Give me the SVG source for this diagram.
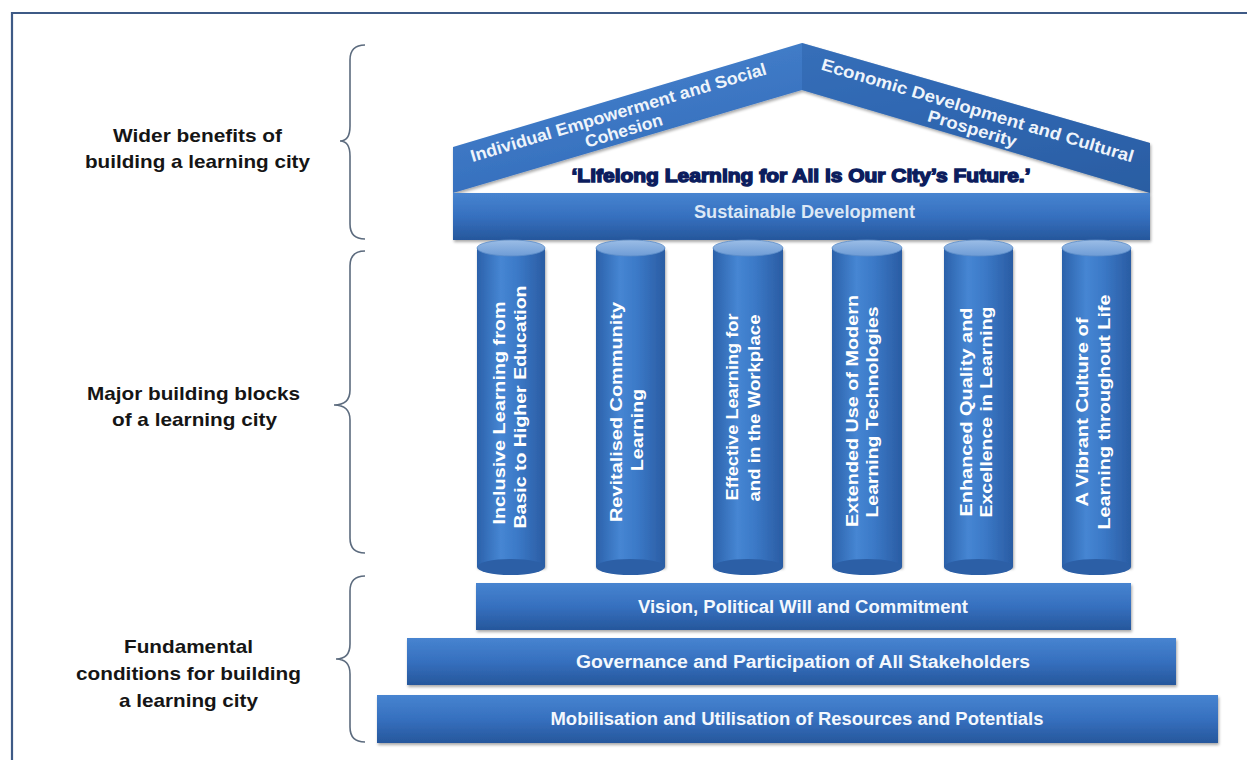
<svg xmlns="http://www.w3.org/2000/svg" width="1247" height="760" viewBox="0 0 1247 760">
<defs>
<linearGradient id="gBar" x1="0" y1="0" x2="0" y2="1">
<stop offset="0" stop-color="#4784d0"/>
<stop offset="0.5" stop-color="#3670bf"/>
<stop offset="1" stop-color="#26579c"/>
</linearGradient>
<linearGradient id="gRoof" x1="0" y1="0" x2="1" y2="1">
<stop offset="0" stop-color="#4a86d0"/>
<stop offset="0.55" stop-color="#356fbd"/>
<stop offset="1" stop-color="#2a5c9f"/>
</linearGradient>
<linearGradient id="gCol" x1="0" y1="0" x2="1" y2="0">
<stop offset="0" stop-color="#2b61aa"/>
<stop offset="0.35" stop-color="#4686d3"/>
<stop offset="0.6" stop-color="#3b79c7"/>
<stop offset="1" stop-color="#2a5ca3"/>
</linearGradient>
<linearGradient id="gTop" x1="0" y1="0" x2="0" y2="1">
<stop offset="0" stop-color="#9bbde6"/>
<stop offset="1" stop-color="#6e9cd6"/>
</linearGradient>
<filter id="sh" x="-5%" y="-20%" width="110%" height="150%">
<feGaussianBlur in="SourceAlpha" stdDeviation="1.5"/>
<feOffset dx="1" dy="2" result="b"/>
<feComponentTransfer><feFuncA type="linear" slope="0.35"/></feComponentTransfer>
<feMerge><feMergeNode/><feMergeNode in="SourceGraphic"/></feMerge>
</filter>
<style>
.lbl{font-family:"Liberation Sans",Arial,sans-serif;font-weight:bold;font-size:19px;fill:#151515;text-anchor:middle}
.bt{font-family:"Liberation Sans",Arial,sans-serif;font-weight:bold;font-size:18px;fill:#f4f8fd;text-anchor:middle}
.ct{font-family:"Liberation Sans",Arial,sans-serif;font-weight:bold;font-size:17px;fill:#ffffff;text-anchor:middle}
.rt{font-family:"Liberation Sans",Arial,sans-serif;font-weight:bold;font-size:17px;fill:#eef4fb;text-anchor:middle}
.motto{font-family:"Liberation Sans",Arial,sans-serif;font-weight:bold;font-size:19px;fill:#0c1d5e;stroke:#0c1d5e;stroke-width:1.4;text-anchor:middle}
.brace{fill:none;stroke:#5c6b7e;stroke-width:1.6}
.bar{fill:url(#gBar)}
.colbody{fill:url(#gCol)}
.coltop{fill:url(#gTop);stroke:#5b8bc8;stroke-width:0.8}
</style>
</defs>
<rect width="1247" height="760" fill="#ffffff"/>
<path d="M12,760 L12,13 L1247,13" fill="none" stroke="#3e5a86" stroke-width="2.2"/>

<g id="connectors">
<path class="brace" d="M365,45 Q350,45 350,60 L350,126 Q350,141 340,141 Q350,141 350,156 L350,224 Q350,239 365,239"/>
<path class="brace" d="M365,251 Q350,251 350,266 L350,390 Q350,405 334,405 Q350,405 350,420 L350,538 Q350,553 365,553"/>
<path class="brace" d="M365,576 Q350,576 350,591 L350,644 Q350,659 336,659 Q350,659 350,674 L350,727 Q350,742 365,742"/>
</g>

<g id="label-wider">
<text class="lbl" x="197.5" y="142" textLength="169" lengthAdjust="spacingAndGlyphs">Wider benefits of</text>
<text class="lbl" x="197.5" y="168" textLength="225" lengthAdjust="spacingAndGlyphs">building a learning city</text>
</g>
<g id="label-major">
<text class="lbl" x="193.5" y="400" textLength="213" lengthAdjust="spacingAndGlyphs">Major building blocks</text>
<text class="lbl" x="194.5" y="426" textLength="165" lengthAdjust="spacingAndGlyphs">of a learning city</text>
</g>
<g id="label-fundamental">
<text class="lbl" x="188.5" y="653" textLength="129" lengthAdjust="spacingAndGlyphs">Fundamental</text>
<text class="lbl" x="188.5" y="680" textLength="225" lengthAdjust="spacingAndGlyphs">conditions for building</text>
<text class="lbl" x="188.5" y="707" textLength="139" lengthAdjust="spacingAndGlyphs">a learning city</text>
</g>

<g id="roof">
<polygon points="453,147 802,43 1150,143 1150,193 802,90 453,193" fill="url(#gRoof)" filter="url(#sh)"/>
<polygon points="802,43 1150,143 1150,193 802,90" fill="#2b5fa6" opacity="0.45"/>
<text class="rt" transform="translate(620,118) rotate(-16.6)" textLength="308" lengthAdjust="spacingAndGlyphs">Individual Empowerment and Social</text>
<text class="rt" transform="translate(620,118) rotate(-16.6)" y="19" textLength="80" lengthAdjust="spacingAndGlyphs">Cohesion</text>
<text class="rt" transform="translate(976,116) rotate(16.6)" textLength="325" lengthAdjust="spacingAndGlyphs">Economic Development and Cultural</text>
<text class="rt" transform="translate(976,116) rotate(16.6)" y="19" textLength="92" lengthAdjust="spacingAndGlyphs">Prosperity</text>
</g>

<g id="motto">
<text class="motto" x="801" y="182" textLength="459" lengthAdjust="spacingAndGlyphs">‘Lifelong Learning for All is Our City’s Future.’</text>
</g>

<g id="sustainable">
<rect class="bar" x="453" y="193" width="697" height="47" filter="url(#sh)"/>
<text class="bt" x="804.5" y="218" textLength="221" lengthAdjust="spacingAndGlyphs" style="fill:#dce8f6">Sustainable Development</text>
</g>

<g id="col1">
<rect class="colbody" x="477" y="248" width="68" height="319" filter="url(#sh)"/>
<ellipse cx="511" cy="567" rx="34" ry="8" fill="#2c5fa6"/>
<ellipse class="coltop" cx="511" cy="248" rx="34" ry="8"/>
<text class="ct" transform="translate(505,413) rotate(-90)" textLength="223" lengthAdjust="spacingAndGlyphs">Inclusive Learning from</text>
<text class="ct" transform="translate(526,407) rotate(-90)" textLength="243" lengthAdjust="spacingAndGlyphs">Basic to Higher Education</text>
</g>
<g id="col2">
<rect class="colbody" x="596" y="248" width="69" height="319" filter="url(#sh)"/>
<ellipse cx="630.5" cy="567" rx="34.5" ry="8" fill="#2c5fa6"/>
<ellipse class="coltop" cx="630.5" cy="248" rx="34.5" ry="8"/>
<text class="ct" transform="translate(622,412) rotate(-90)" textLength="220" lengthAdjust="spacingAndGlyphs">Revitalised  Community</text>
<text class="ct" transform="translate(643,430) rotate(-90)" textLength="82" lengthAdjust="spacingAndGlyphs">Learning</text>
</g>
<g id="col3">
<rect class="colbody" x="713" y="248" width="70" height="319" filter="url(#sh)"/>
<ellipse cx="748" cy="567" rx="35" ry="8" fill="#2c5fa6"/>
<ellipse class="coltop" cx="748" cy="248" rx="35" ry="8"/>
<text class="ct" transform="translate(738,407) rotate(-90)" textLength="187" lengthAdjust="spacingAndGlyphs">Effective Learning for</text>
<text class="ct" transform="translate(760,408) rotate(-90)" textLength="187" lengthAdjust="spacingAndGlyphs">and in the Workplace</text>
</g>
<g id="col4">
<rect class="colbody" x="832" y="248" width="70" height="319" filter="url(#sh)"/>
<ellipse cx="867" cy="567" rx="35" ry="8" fill="#2c5fa6"/>
<ellipse class="coltop" cx="867" cy="248" rx="35" ry="8"/>
<text class="ct" transform="translate(858,411) rotate(-90)" textLength="232" lengthAdjust="spacingAndGlyphs">Extended Use of Modern</text>
<text class="ct" transform="translate(878,412) rotate(-90)" textLength="211" lengthAdjust="spacingAndGlyphs">Learning Technologies</text>
</g>
<g id="col5">
<rect class="colbody" x="944" y="248" width="69" height="319" filter="url(#sh)"/>
<ellipse cx="978.5" cy="567" rx="34.5" ry="8" fill="#2c5fa6"/>
<ellipse class="coltop" cx="978.5" cy="248" rx="34.5" ry="8"/>
<text class="ct" transform="translate(972,412) rotate(-90)" textLength="209" lengthAdjust="spacingAndGlyphs">Enhanced Quality and</text>
<text class="ct" transform="translate(992,412) rotate(-90)" textLength="211" lengthAdjust="spacingAndGlyphs">Excellence in Learning</text>
</g>
<g id="col6">
<rect class="colbody" x="1062" y="248" width="69" height="319" filter="url(#sh)"/>
<ellipse cx="1096.5" cy="567" rx="34.5" ry="8" fill="#2c5fa6"/>
<ellipse class="coltop" cx="1096.5" cy="248" rx="34.5" ry="8"/>
<text class="ct" transform="translate(1088,412) rotate(-90)" textLength="189" lengthAdjust="spacingAndGlyphs">A Vibrant Culture of</text>
<text class="ct" transform="translate(1110,412) rotate(-90)" textLength="235" lengthAdjust="spacingAndGlyphs">Learning throughout Life</text>
</g>

<g id="vision">
<rect class="bar" x="476" y="583" width="655" height="47" filter="url(#sh)"/>
<text class="bt" x="803" y="613" textLength="330" lengthAdjust="spacingAndGlyphs">Vision, Political Will and Commitment</text>
</g>
<g id="governance">
<rect class="bar" x="407" y="638" width="769" height="47" filter="url(#sh)"/>
<text class="bt" x="803" y="668" textLength="454" lengthAdjust="spacingAndGlyphs">Governance and Participation of All Stakeholders</text>
</g>
<g id="mobilisation">
<rect class="bar" x="377" y="695" width="841" height="48" filter="url(#sh)"/>
<text class="bt" x="797" y="725" textLength="493" lengthAdjust="spacingAndGlyphs">Mobilisation and Utilisation of Resources and Potentials</text>
</g>
</svg>
